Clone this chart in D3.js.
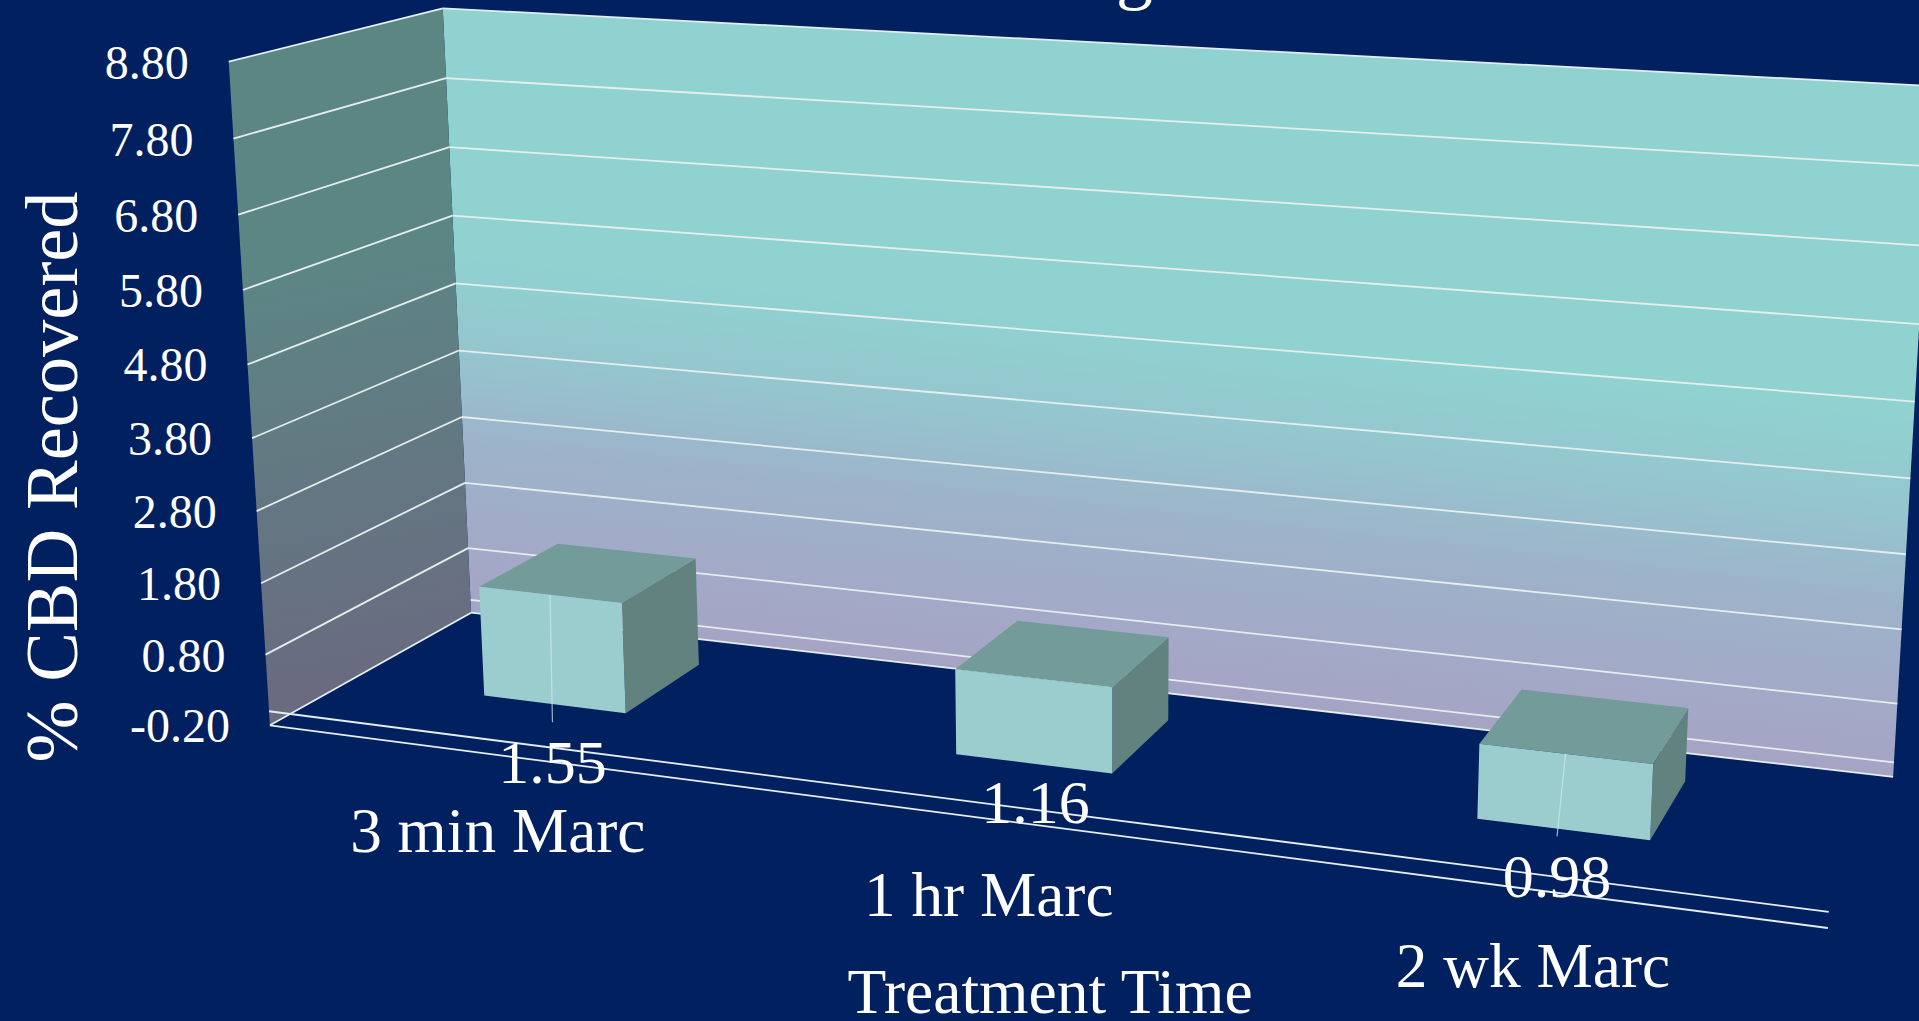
<!DOCTYPE html>
<html>
<head>
<meta charset="utf-8">
<title>% CBD Recovered by Treatment Time</title>
<script src="https://cdn.jsdelivr.net/npm/d3@7/dist/d3.min.js"></script>
<style>
  html, body { margin: 0; padding: 0; background: #002060; overflow: hidden; }
  svg { display: block; }
  text { font-family: "Liberation Serif", "Times New Roman", serif; fill: #fff; }
</style>
</head>
<body>
<svg id="chart" width="1919" height="1021"></svg>
<script>
// Chart data
const categories = ["3 min Marc", "1 hr Marc", "2 wk Marc"];
const recovered = [1.55, 1.16, 0.98];
const valueLabels = ["1.55", "1.16", "0.98"];
const axisTicks = [-0.2, 0.8, 1.8, 2.8, 3.8, 4.8, 5.8, 6.8, 7.8, 8.8];
const leaderCategories = ["3 min Marc", "2 wk Marc"];
const yAxisTitle = "% CBD Recovered";
const xAxisTitle = "Treatment Time";

const W = 1919, H = 1021;
const svg = d3.select("#chart").attr("viewBox", [0, 0, W, H]);

// Chart box in unit coordinates (u across, v up, w into the page)
// paired with where its corners land on the page.
const boxCorners = [
  [[0, 0, 0], [270, 725]],
  [[0, 0, 1], [471, 613]],
  [[1, 0, 1], [1893, 777]],
  [[1, 0, 0], [1828, 928]],
  [[0, 1, 0], [228.5, 62]],
  [[0, 1, 1], [443, 8]],
  [[1, 1, 1], [1933, 86]]
];

// Least-squares camera from the box corners.
function solveCamera(pairs) {
  const n = 11, A = d3.range(n).map(() => new Array(n + 1).fill(0));
  const add = (row, rhs) => {
    for (let i = 0; i < n; i++) {
      for (let j = 0; j < n; j++) A[i][j] += row[i] * row[j];
      A[i][n] += row[i] * rhs;
    }
  };
  for (const [[X, Y, Z], [px, py]] of pairs) {
    const x = px / 1000, y = py / 1000;
    add([X, Y, Z, 1, 0, 0, 0, 0, -x * X, -x * Y, -x * Z], x);
    add([0, 0, 0, 0, X, Y, Z, 1, -y * X, -y * Y, -y * Z], y);
  }
  for (let c = 0; c < n; c++) {
    let best = c;
    for (let r = c + 1; r < n; r++) if (Math.abs(A[r][c]) > Math.abs(A[best][c])) best = r;
    [A[c], A[best]] = [A[best], A[c]];
    for (let r = 0; r < n; r++) {
      if (r === c) continue;
      const f = A[r][c] / A[c][c];
      for (let k = c; k <= n; k++) A[r][k] -= f * A[c][k];
    }
  }
  return A.map((row, i) => row[n] / row[i]);
}
const cam = solveCamera(boxCorners);
function project(u, v, w) {
  const d = cam[8] * u + cam[9] * v + cam[10] * w + 1;
  return [
    1000 * (cam[0] * u + cam[1] * v + cam[2] * w + cam[3]) / d,
    1000 * (cam[4] * u + cam[5] * v + cam[6] * w + cam[7]) / d
  ];
}

// Scales
const vScale = d3.scaleLinear().domain([-0.2, 8.8]).range([0, 1]);
const uScale = d3.scaleBand().domain(categories).range([0, 1]).paddingInner(0.69).paddingOuter(0.345);
const depth = d3.scaleLinear().domain([0, 1]).range([0.29, 0.7]);

const pt = (u, value, w) => project(u, vScale(value), w);
const poly = pts => d3.line()(pts) + "Z";

// Gradients for the two walls
const defs = svg.append("defs");
function wallGradient(id, a, b, stops) {
  const g = defs.append("linearGradient").attr("id", id).attr("gradientUnits", "userSpaceOnUse")
    .attr("x1", a[0]).attr("y1", a[1]).attr("x2", b[0]).attr("y2", b[1]);
  stops.forEach(([o, c]) => g.append("stop").attr("offset", o).attr("stop-color", c));
}
wallGradient("backWall", [1190, 700], [1255, 120], [[0, "#a6a3c4"], [0.3, "#9db3ca"], [0.45, "#95c5ce"], [0.62, "#8fd2d0"], [1, "#8fd2d0"]]);
wallGradient("sideWall", [380, 690], [300, 260], [[0, "#6a6a80"], [1, "#5c8684"]]);

const vLo = axisTicks[0], vHi = axisTicks[axisTicks.length - 1];

// Walls
svg.append("path").attr("fill", "url(#backWall)")
  .attr("d", poly([pt(0, vLo, 1), pt(1, vLo, 1), pt(1, vHi, 1), pt(0, vHi, 1)]));
svg.append("path").attr("fill", "url(#sideWall)")
  .attr("d", poly([pt(0, vLo, 0), pt(0, vLo, 1), pt(0, vHi, 1), pt(0, vHi, 0)]));

// Gridlines across both walls, plus the zero plane and floor edges
const gridColor = "#e4eeee";
const seg = (a, b) => svg.append("line").attr("x1", a[0]).attr("y1", a[1]).attr("x2", b[0]).attr("y2", b[1])
  .attr("stroke", gridColor).attr("stroke-width", 1.8);
axisTicks.forEach(t => {
  seg(pt(0, t, 0), pt(0, t, 1));
  seg(pt(0, t, 1), pt(1, t, 1));
});
seg(pt(0, 0, 1), pt(1, 0, 1));
seg(pt(0, vLo, 0), pt(1, vLo, 0));
seg(pt(0, 0, 0), pt(1, 0, 0));

// Bars
const barData = categories.map((c, i) => ({ c, value: recovered[i], label: valueLabels[i] }));
barData.forEach(d => {
  const u0 = uScale(d.c), u1 = u0 + uScale.bandwidth();
  const w0 = depth(0), w1 = depth(1);
  d.uMid = (u0 + u1) / 2;
  d.frontTop = pt(d.uMid, d.value, w0);
  d.frontBase = pt(d.uMid, 0, w0);
  svg.append("path").attr("fill", "#628280")
    .attr("d", poly([pt(u1, 0, w0), pt(u1, 0, w1), pt(u1, d.value, w1), pt(u1, d.value, w0)]));
  svg.append("path").attr("fill", "#739b9a")
    .attr("d", poly([pt(u0, d.value, w0), pt(u1, d.value, w0), pt(u1, d.value, w1), pt(u0, d.value, w1)]));
  svg.append("path").attr("fill", "#9bcdcf")
    .attr("d", poly([pt(u0, 0, w0), pt(u1, 0, w0), pt(u1, d.value, w0), pt(u0, d.value, w0)]));
});

// Hand-placed value labels: offset from the centre of each bar's front base
const labelNudge = [[-2, 79], [2, 59], [-6, 68]];
barData.forEach((d, i) => {
  const x = d.frontBase[0] + labelNudge[i][0], y = d.frontBase[1] + labelNudge[i][1];
  if (leaderCategories.includes(d.c)) {
    svg.append("line").attr("x1", d.frontTop[0]).attr("y1", d.frontTop[1])
      .attr("x2", x).attr("y2", y - 61)
      .attr("stroke", "#cfe8e8").attr("stroke-opacity", 0.75).attr("stroke-width", 1.2);
  }
  svg.append("text").attr("x", x).attr("y", y).attr("text-anchor", "middle")
    .attr("font-size", 62).text(d.label);
});

// Value axis labels follow the outer wall edge
axisTicks.forEach(t => {
  const p = pt(0, t, 0);
  svg.append("text").attr("x", p[0] - 40).attr("y", p[1] + 17).attr("text-anchor", "end")
    .attr("font-size", 48).text(t.toFixed(2));
});

// Category labels hang below the front floor edge
categories.forEach(c => {
  const p = pt(uScale(c) + uScale.bandwidth() / 2, vLo, 0);
  svg.append("text").attr("x", p[0]).attr("y", p[1] + 97).attr("text-anchor", "middle")
    .attr("font-size", 63.3).text(c);
});

// Axis titles
svg.append("text").attr("transform", "translate(77,477) rotate(-90)").attr("text-anchor", "middle")
  .attr("font-size", 74.5).text(yAxisTitle);
svg.append("text").attr("x", 1050).attr("y", 1013).attr("text-anchor", "middle")
  .attr("font-size", 63.5).text(xAxisTitle);

// Only the tail of the heading reaches the top edge of the page
svg.append("text").attr("x", 1134.5).attr("y", -5).attr("text-anchor", "middle")
  .attr("font-size", 74).text("g");
</script>
</body>
</html>
